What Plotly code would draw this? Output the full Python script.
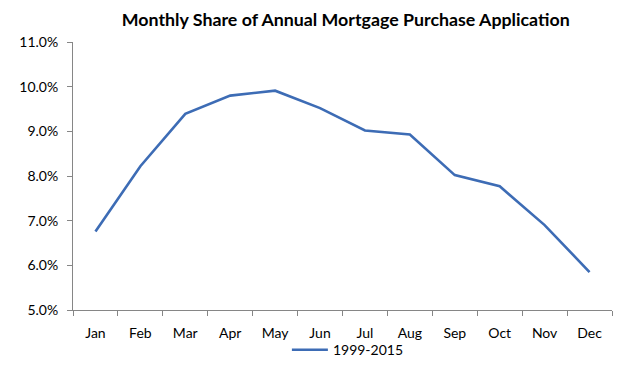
import plotly.graph_objects as go

months = ["Jan", "Feb", "Mar", "Apr", "May", "Jun", "Jul", "Aug", "Sep", "Oct", "Nov", "Dec"]
share_1999_2015 = [6.76, 8.22, 9.39, 9.80, 9.91, 9.52, 9.02, 8.93, 8.02, 7.77, 6.90, 5.85]
y_ticks = [5, 6, 7, 8, 9, 10, 11]
y_tick_labels = ["5.0%", "6.0%", "7.0%", "8.0%", "9.0%", "10.0%", "11.0%"]

font_family = "Lato, 'Open Sans', sans-serif"
axis_color = "#868686"

fig = go.Figure()
fig.add_trace(go.Scatter(
    x=list(range(len(months))),
    y=share_1999_2015,
    mode="lines",
    name="1999-2015",
    line=dict(color="#3D6CB5", width=2.6),
))

fig.update_layout(
    width=623, height=374,
    margin=dict(l=73, r=11, t=42, b=64, autoexpand=False),
    paper_bgcolor="white", plot_bgcolor="white",
    font=dict(family=font_family, size=14, color="#000000"),
    title=dict(
        text="<b>Monthly Share of Annual Mortgage Purchase Application</b>",
        x=0.555, xanchor="center", y=0.947, yanchor="middle",
        font=dict(size=17.8, family=font_family, color="#000000"),
    ),
    showlegend=True,
    legend=dict(
        orientation="h", x=0.51, xanchor="center", y=-0.15, yanchor="middle",
        font=dict(size=14), itemwidth=36, bgcolor="rgba(0,0,0,0)",
    ),
)

fig.update_xaxes(
    range=[-0.5, 11.5],
    tickmode="array",
    tickvals=list(range(len(months))),
    ticktext=months,
    showgrid=False, zeroline=False, automargin=False,
    showline=True, linecolor=axis_color, linewidth=1,
    ticks="", ticklabelstandoff=10,
    minor=dict(tickmode="array", tickvals=[i - 0.5 for i in range(len(months) + 1)],
               ticks="outside", ticklen=5, tickcolor=axis_color, showgrid=False),
)
fig.update_yaxes(
    range=[5, 11],
    tickmode="array",
    tickvals=y_ticks,
    ticktext=y_tick_labels,
    showgrid=False, zeroline=False, automargin=False,
    showline=True, linecolor=axis_color, linewidth=1,
    ticks="outside", ticklen=5, tickcolor=axis_color,
    ticklabelstandoff=6,
)

fig.write_html("out.html", config={"displayModeBar": False},
               post_script="document.body.style.margin='0';")
